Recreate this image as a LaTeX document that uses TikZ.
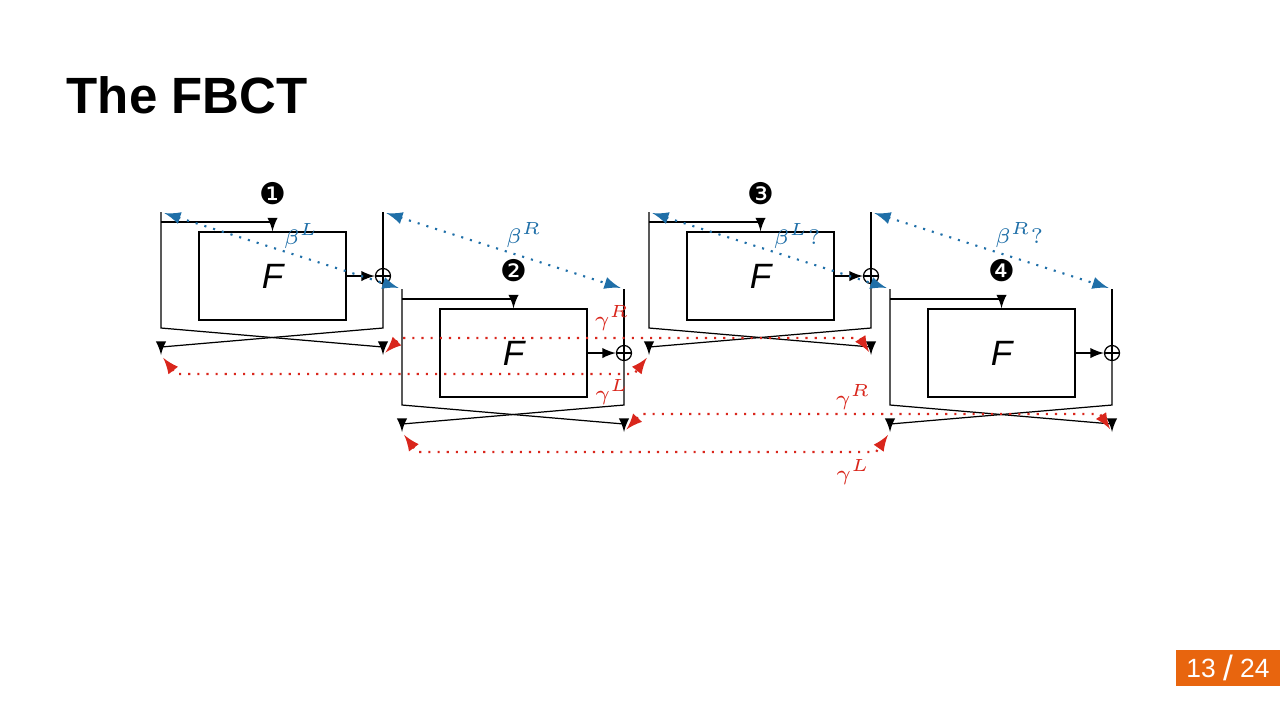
\documentclass[tikz,border=0pt]{standalone}
\usepackage{fontspec}
\setmainfont{Liberation Sans}
\newfontfamily\dejavu{DejaVu Sans}
\usetikzlibrary{positioning}
\definecolor{betac}{HTML}{1F6FA8}
\definecolor{gammac}{HTML}{D9261C}
\definecolor{pagec}{HTML}{E8650E}
\tikzstyle{wire} = [line width=0.35pt, >=latex, arrows={-latex[scale=0.4]}]
\tikzstyle{fbox} = [draw, line width=0.35pt, minimum width=1.47cm, minimum height=0.88cm, font=\itshape\fontsize{10}{10}\selectfont]
\tikzstyle{xor} = [draw, line width=0.35pt, circle, minimum size=0.15cm, inner sep=0pt, path picture={\draw[line width=0.35pt] (path picture bounding box.north) -- (path picture bounding box.south) (path picture bounding box.west) -- (path picture bounding box.east);}]
\tikzstyle{badge} = [font=\dejavu\fontsize{8.5}{8.5}\selectfont]
\tikzstyle{beta} = [betac, semithick, dotted, arrows={latex[scale=0.45]-latex[scale=0.45]}, shorten <=1pt, shorten >=1pt]
\tikzstyle{gamma} = [gammac, semithick, dotted, arrows={latex[scale=0.45]-latex[scale=0.45]}, shorten <=1pt, shorten >=1pt]
\tikzstyle{lab} = [font=\fontsize{6.5}{6.5}\selectfont, inner sep=0pt]

\newcommand{\fround}[4]{%
\begin{scope}[shift={(#2,#3)}]
\coordinate (#1tl) at (161,212);
\coordinate (#1tr) at (383,212);
\coordinate (#1ol) at (161,355);
\coordinate (#1or) at (383,355);
\node [fbox] (#1f) at (272.5,276) {F};
\node [xor] (#1x) at (383,276) {};
\node [badge] (#1b) at (273,194) {#4};
\draw [wire] (161,222) -| (#1f.north);
\draw [wire] (#1f) -- (#1x);
\draw [wire] (#1tl) -- (161,328) -- (383,347) -- (#1or);
\draw [line width=0.35pt] (#1tr) -- (#1x.north);
\draw [wire] (#1x.south) -- (383,328) -- (161,347) -- (#1ol);
\end{scope}}

\begin{document}
\begin{tikzpicture}[x=0.01cm, y=-0.01cm]
\useasboundingbox (0,0) rectangle (1280,720);

% Title and page number
\node [anchor=west, inner sep=0pt, font=\bfseries\fontsize{14.5}{14.5}\selectfont] (title) at (66,95) {The FBCT};
\fill [pagec] (1176,650) rectangle (1280,686);
\node [white, font=\fontsize{7.5}{7.5}\selectfont] (page) at (1228,668) {13 \raisebox{-0.1em}{\fontsize{10}{10}\selectfont /} 24};

% Rounds
\fround{ra}{0}{0}{❶}
\fround{rb}{241}{77}{❷}
\fround{rc}{488}{0}{❸}
\fround{rd}{729}{77}{❹}

% Differences beta
\draw [beta] (ratl) -- (rbtl);
\draw [beta] (ratr) -- (rbtr);
\draw [beta] (rctl) -- (rdtl);
\draw [beta] (rctr) -- (rdtr);
\node [lab, betac] (bl1) at (301,236) {$\beta^L$};
\node [lab, betac] (br1) at (524,235) {$\beta^R$};
\node [lab, betac] (bl2) at (797,236) {$\beta^L?$};
\node [lab, betac] (br2) at (1019,235) {$\beta^R?$};

% Differences gamma
\draw [gamma] (raor) -- (400,338) -- (860,338) -- (rcor);
\draw [gamma] (raol) -- (176,374) -- (634,374) -- (rcol);
\draw [gamma] (rbor) -- (641,414) -- (1100,414) -- (rdor);
\draw [gamma] (rbol) -- (417,452) -- (876,452) -- (rdol);
\node [lab, gammac] (gr1) at (612,318) {$\gamma^R$};
\node [lab, gammac] (gl1) at (612,392) {$\gamma^L$};
\node [lab, gammac] (gr2) at (853,397) {$\gamma^R$};
\node [lab, gammac] (gl2) at (853,472) {$\gamma^L$};

\end{tikzpicture}
\end{document}
